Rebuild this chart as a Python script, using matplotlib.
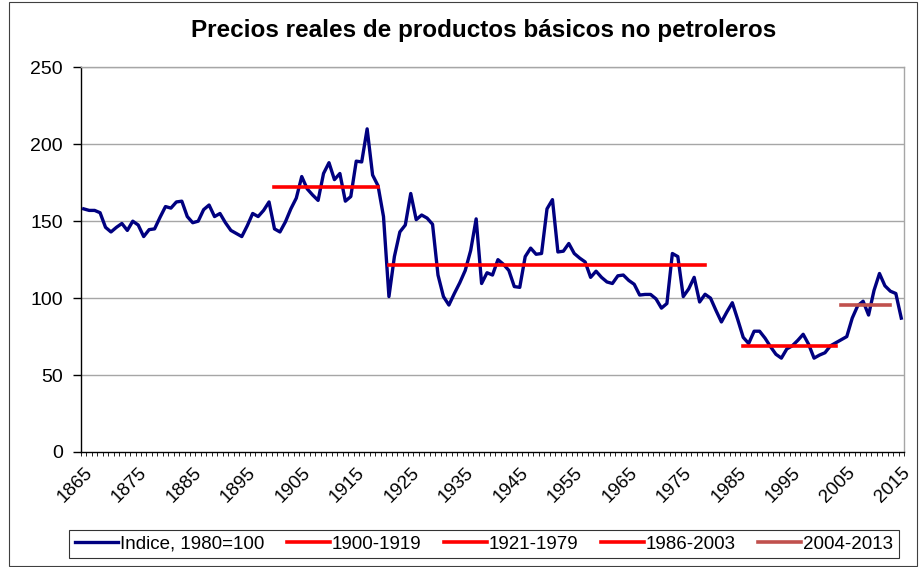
import numpy as np
import matplotlib
matplotlib.use("Agg")
import matplotlib.pyplot as plt
from matplotlib.patches import Rectangle

years = list(range(1865, 2016))
index_values = [
    158, 157, 157, 155.5, 146, 143, 146, 148.5, 144, 150,          # 1865-1874
    147.5, 140, 144.5, 145, 152.5, 159.5, 158.5, 162.5, 163, 153,  # 1875-1884
    149, 150, 157.5, 160.5, 153, 155, 149, 144, 142, 140,          # 1885-1894
    147, 155, 153, 157, 162.5, 145, 143, 149.5, 158, 165,          # 1895-1904
    179, 171, 167, 163.5, 181, 188, 177, 181, 163, 166,            # 1905-1914
    189, 188.5, 210, 180, 173, 153, 101, 127, 143, 147.5,          # 1915-1924
    168, 151, 154, 152, 148, 115, 101, 95.5, 103, 110,             # 1925-1934
    118, 131, 151.5, 109.5, 116.5, 115, 125, 122, 118, 107.5,      # 1935-1944
    107, 127, 132.5, 128.5, 129, 158, 164, 130, 130.5, 135.5,      # 1945-1954
    129, 126, 123.5, 113.5, 117.5, 113.5, 110.5, 109.5, 114.5, 115,  # 1955-1964
    111.5, 109, 102, 102.4, 102.4, 99.5, 93.5, 96.5, 129, 127,     # 1965-1974
    101, 106, 113.5, 97.5, 102.5, 100, 92, 84.5, 91, 97,           # 1975-1984
    86, 74.5, 70.5, 78.5, 78.5, 74, 68.5, 63.5, 61, 67,            # 1985-1994
    69, 72.5, 76.5, 70, 61, 63, 64.5, 69, 71, 73,                  # 1995-2004
    75, 87, 95, 98, 89, 105, 116, 108, 104.5, 103,                 # 2005-2014
    87,                                                            # 2015
]

period_labels = ["1900-1919", "1921-1979", "1986-2003", "2004-2013"]
period_starts = [1900, 1921, 1986, 2004]
period_ends = [1919, 1979, 2003, 2013]
period_means = [172, 121.2, 69.1, 95.5]
period_colors = ["#FF0000", "#FF0000", "#FF0000", "#C0504D"]

tick_years = list(range(1865, 2016, 10))
y_ticks = [0, 50, 100, 150, 200, 250]

plt.rcParams['font.family'] = ['Liberation Sans', 'DejaVu Sans']

fig = plt.figure(figsize=(9.21, 5.67), dpi=100)
ax = fig.add_axes([81/921, 1-452/567, (904-81)/921, (452-67.3)/567])

for y in y_ticks[1:]:
    ax.axhline(y, color='#A6A6A6', linewidth=1.0, zorder=1)

ax.plot(years, index_values, color='#000080', linewidth=2.4, label='Indice, 1980=100',
        zorder=3, solid_joinstyle='round')
for lab, s, e, m, c in zip(period_labels, period_starts, period_ends, period_means, period_colors):
    ax.plot([s, e], [m, m], color=c, linewidth=2.6, label=lab, zorder=4)

ax.set_xlim(1864.5, 2015.5)
ax.set_ylim(0, 250)
ax.set_yticks(y_ticks)
ax.set_yticklabels([str(v) for v in y_ticks], fontsize=14)
ax.tick_params(axis='y', direction='out', length=6, width=1, pad=7)

ax.set_xticks(tick_years)
ax.set_xticklabels([str(v) for v in tick_years], rotation=45, ha='right',
                   rotation_mode='anchor', fontsize=13.5)
ax.set_xticks(np.arange(1864.5, 2016, 1), minor=True)
ax.tick_params(axis='x', which='major', length=0, pad=9)
ax.tick_params(axis='x', which='minor', direction='out', length=3, width=0.6)

for side in ['top', 'right']:
    ax.spines[side].set_color('#A6A6A6')
    ax.spines[side].set_linewidth(1.0)
for side in ['left', 'bottom']:
    ax.spines[side].set_color('black')
    ax.spines[side].set_linewidth(1.0)

fig.text(484/921, 1-31/567, 'Precios reales de productos básicos no petroleros',
         ha='center', va='center', fontsize=17.5, fontweight='bold')

leg = fig.legend(loc='center', bbox_to_anchor=(484/921, 1-544/567), ncol=5,
                 fontsize=13.5, frameon=True, fancybox=False, edgecolor='black',
                 handlelength=2.3, handletextpad=0.1, columnspacing=1.2,
                 borderpad=0.3)
leg.get_frame().set_linewidth(0.8)

fig.patches.append(Rectangle((9/921, 0.002), (917-9)/921, 0.994, transform=fig.transFigure,
                             fill=False, edgecolor='#404040', linewidth=0.8))

fig.savefig('out.png', dpi=100)
